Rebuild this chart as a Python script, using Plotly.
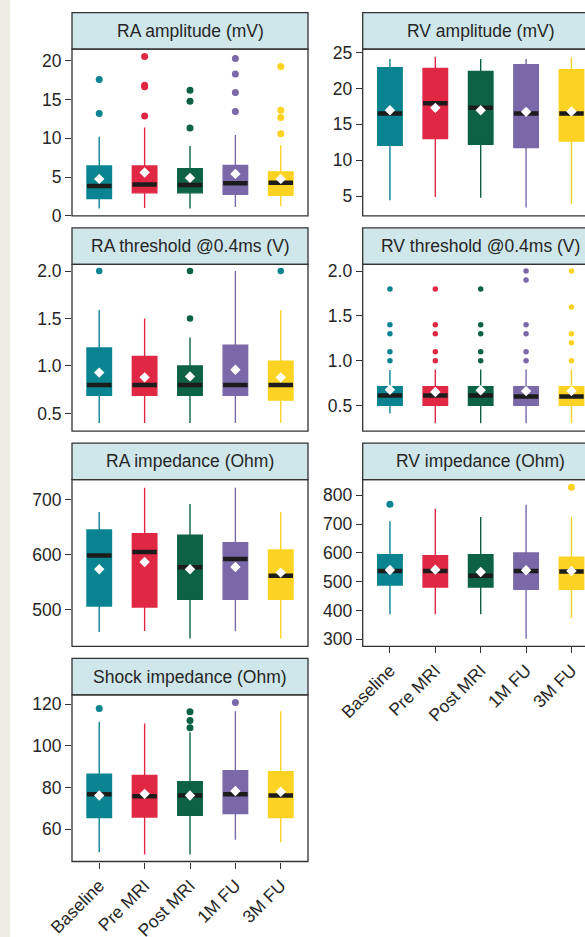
import plotly.graph_objects as go

# ---------------- data ----------------
CATS = ["Baseline", "Pre MRI", "Post MRI", "1M FU", "3M FU"]
COLORS = ["#0a8491", "#e02845", "#0d6145", "#7a68a8", "#fdd323"]

# RA amplitude (mV)
RA_AMP_Q1 = [2.24, 2.97, 2.97, 2.80, 2.67]
RA_AMP_MED = [3.87, 4.04, 4.00, 4.20, 4.26]
RA_AMP_Q3 = [6.45, 6.45, 6.10, 6.50, 5.68]
RA_AMP_LO = [0.95, 1.03, 0.95, 1.16, 1.29]
RA_AMP_HI = [10.2, 11.4, 9.0, 10.45, 9.16]
RA_AMP_MEAN = [4.77, 5.59, 4.90, 5.42, 4.77]
RA_AMP_OUT = [[17.6, 13.2], [20.56, 16.86, 16.65, 12.9], [16.2, 14.8, 11.35],
              [20.3, 18.3, 15.9, 13.46], [19.27, 13.63, 12.69, 10.58]]

# RV amplitude (mV)
RV_AMP_Q1 = [12.1, 13.03, 12.24, 11.77, 12.66]
RV_AMP_MED = [16.5, 17.95, 17.3, 16.5, 16.5]
RV_AMP_Q3 = [22.9, 22.77, 22.36, 23.3, 22.6]
RV_AMP_LO = [4.44, 4.9, 4.8, 3.42, 3.89]
RV_AMP_HI = [24.1, 24.4, 24.1, 24.1, 24.3]
RV_AMP_MEAN = [16.97, 17.3, 16.97, 16.74, 16.8]
RV_AMP_OUT = [[], [], [], [], []]

# RA threshold @0.4ms (V)
RA_THR_Q1 = [0.69, 0.69, 0.69, 0.69, 0.64]
RA_THR_MED = [0.80, 0.80, 0.80, 0.80, 0.80]
RA_THR_Q3 = [1.19, 1.10, 1.00, 1.22, 1.05]
RA_THR_LO = [0.40, 0.40, 0.40, 0.40, 0.40]
RA_THR_HI = [1.59, 1.50, 1.30, 2.00, 1.59]
RA_THR_MEAN = [0.93, 0.88, 0.89, 0.96, 0.88]
RA_THR_OUT = [[2.0], [], [2.0, 1.5], [], [2.0]]

# RV threshold @0.4ms (V)
RV_THR_Q1 = [0.50, 0.50, 0.50, 0.50, 0.50]
RV_THR_MED = [0.61, 0.61, 0.61, 0.60, 0.60]
RV_THR_Q3 = [0.71, 0.71, 0.71, 0.71, 0.71]
RV_THR_LO = [0.41, 0.30, 0.30, 0.30, 0.30]
RV_THR_HI = [0.895, 0.90, 0.90, 0.90, 0.90]
RV_THR_MEAN = [0.675, 0.65, 0.67, 0.66, 0.66]
RV_THR_OUT = [[1.8, 1.4, 1.3, 1.1, 1.0], [1.8, 1.4, 1.3, 1.1, 1.0],
              [1.8, 1.4, 1.3, 1.1, 1.0], [2.0, 1.9, 1.4, 1.3, 1.1, 1.0],
              [2.0, 1.6, 1.3, 1.2, 1.0]]

# RA impedance (Ohm)
RA_IMP_Q1 = [506.7, 504.8, 518.8, 518.8, 518.8]
RA_IMP_MED = [598.2, 604.8, 577.0, 592.0, 561.8]
RA_IMP_Q3 = [644.8, 638.0, 635.2, 621.8, 608.5]
RA_IMP_LO = [459.4, 461.2, 447.3, 460.6, 447.3]
RA_IMP_HI = [677.6, 721.8, 692.0, 721.8, 677.6]
RA_IMP_MEAN = [573.3, 586.7, 573.3, 577.6, 567.3]
RA_IMP_OUT = [[], [], [], [], []]

# RV impedance (Ohm)
RV_IMP_Q1 = [488.7, 481.7, 481.7, 473.6, 473.6]
RV_IMP_MED = [537.3, 537.3, 521.0, 537.3, 535.0]
RV_IMP_Q3 = [594.0, 590.5, 594.0, 599.8, 584.7]
RV_IMP_LO = [386.8, 386.8, 386.8, 302.3, 374.0]
RV_IMP_HI = [709.7, 753.7, 724.8, 767.6, 724.8]
RV_IMP_MEAN = [540.7, 541.9, 533.8, 539.6, 537.3]
RV_IMP_OUT = [[768.8], [], [], [], [827.8]]

# Shock impedance (Ohm)
SH_IMP_Q1 = [65.5, 65.8, 66.6, 67.4, 65.5]
SH_IMP_MED = [76.7, 75.8, 76.1, 76.7, 76.1]
SH_IMP_Q3 = [86.4, 85.7, 82.8, 88.0, 87.5]
SH_IMP_LO = [48.9, 47.8, 47.8, 54.9, 53.7]
SH_IMP_HI = [111.6, 110.7, 106.5, 116.6, 116.6]
SH_IMP_MEAN = [76.1, 76.9, 76.1, 78.3, 77.9]
SH_IMP_OUT = [[117.9], [], [116.3, 112.1, 108.7], [120.8], []]

# ---------------- geometry ----------------
W, H = 585, 937
FONT = "Liberation Sans, Arial, Helvetica, sans-serif"
TXT = "#262626"
FRAME = "#333333"
STRIP_FILL = "#cfe7eb"
FS = 17.5

COLS = [(72.0, 308.0), (362.7, 598.7)]  # visual panel left/right (px)
XR = [-0.6, 4.6]


def ry(p):
    return 1 - p / H


def rx(p):
    return p / W


panels = [
    dict(title="RA amplitude (mV)", q1=RA_AMP_Q1, med=RA_AMP_MED, q3=RA_AMP_Q3, lo=RA_AMP_LO,
         hi=RA_AMP_HI, mean=RA_AMP_MEAN, out=RA_AMP_OUT, yr=[0, 21.5],
         tv=[0, 5, 10, 15, 20], tt=["0", "5", "10", "15", "20"], col=0, row=0, xt=False, ms=7),
    dict(title="RV amplitude (mV)", q1=RV_AMP_Q1, med=RV_AMP_MED, q3=RV_AMP_Q3, lo=RV_AMP_LO,
         hi=RV_AMP_HI, mean=RV_AMP_MEAN, out=RV_AMP_OUT, yr=[2.26, 25.46],
         tv=[5, 10, 15, 20, 25], tt=["5", "10", "15", "20", "25"], col=1, row=0, xt=False, ms=7),
    dict(title="RA threshold @0.4ms (V)", q1=RA_THR_Q1, med=RA_THR_MED, q3=RA_THR_Q3, lo=RA_THR_LO,
         hi=RA_THR_HI, mean=RA_THR_MEAN, out=RA_THR_OUT, yr=[0.314, 2.07],
         tv=[0.5, 1.0, 1.5, 2.0], tt=["0.5", "1.0", "1.5", "2.0"], col=0, row=1, xt=False, ms=6.5,
         ocol={4: COLORS[0]}),
    dict(title="RV threshold @0.4ms (V)", q1=RV_THR_Q1, med=RV_THR_MED, q3=RV_THR_Q3, lo=RV_THR_LO,
         hi=RV_THR_HI, mean=RV_THR_MEAN, out=RV_THR_OUT, yr=[0.213, 2.075],
         tv=[0.5, 1.0, 1.5, 2.0], tt=["0.5", "1.0", "1.5", "2.0"], col=1, row=1, xt=False, ms=5.5),
    dict(title="RA impedance (Ohm)", q1=RA_IMP_Q1, med=RA_IMP_MED, q3=RA_IMP_Q3, lo=RA_IMP_LO,
         hi=RA_IMP_HI, mean=RA_IMP_MEAN, out=RA_IMP_OUT, yr=[433.3, 736.4],
         tv=[500, 600, 700], tt=["500", "600", "700"], col=0, row=2, xt=False, ms=7),
    dict(title="RV impedance (Ohm)", q1=RV_IMP_Q1, med=RV_IMP_MED, q3=RV_IMP_Q3, lo=RV_IMP_LO,
         hi=RV_IMP_HI, mean=RV_IMP_MEAN, out=RV_IMP_OUT, yr=[275.7, 854.5],
         tv=[300, 400, 500, 600, 700, 800], tt=["300", "400", "500", "600", "700", "800"],
         col=1, row=2, xt=True, ms=7),
    dict(title="Shock impedance (Ohm)", q1=SH_IMP_Q1, med=SH_IMP_MED, q3=SH_IMP_Q3, lo=SH_IMP_LO,
         hi=SH_IMP_HI, mean=SH_IMP_MEAN, out=SH_IMP_OUT, yr=[44.4, 124.5],
         tv=[60, 80, 100, 120], tt=["60", "80", "100", "120"], col=0, row=3, xt=True, ms=7),
]

fig = go.Figure()
layout = dict(
    template="none",
    width=W, height=H, margin=dict(l=0, r=0, t=0, b=0, pad=0, autoexpand=False),
    paper_bgcolor="white", plot_bgcolor="white", showlegend=False,
    font=dict(family=FONT, color=TXT, size=FS),
)
shapes = [dict(type="rect", xref="paper", yref="paper", x0=0, x1=rx(10), y0=0, y1=1,
               fillcolor="#eeede3", line=dict(width=0), layer="below")]
annotations = []

BW = 0.54
HALF = 0.27


def frame_path(x0, x1, y0, y1, closed):
    if closed:
        return f"M{x0},{y0} L{x1},{y0} L{x1},{y1} L{x0},{y1} Z"
    return f"M{x1},{y0} L{x0},{y0} L{x0},{y1} L{x1},{y1}"


for i, p in enumerate(panels):
    n = i + 1
    xa = "x" if n == 1 else f"x{n}"
    ya = "y" if n == 1 else f"y{n}"
    xl, xr_vis = COLS[p["col"]]
    xr_dom = min(xr_vis, W)
    closed = xr_vis <= W
    st = 12.7 + 215.2 * p["row"]
    sb = st + 36.5
    pb = st + 203.2
    xmax = XR[0] + (XR[1] - XR[0]) * (xr_dom - xl) / (xr_vis - xl)

    layout[f"xaxis{n if n > 1 else ''}"] = dict(
        domain=[rx(xl), rx(xr_dom)], range=[XR[0], xmax], anchor=ya, automargin=False,
        showgrid=False, zeroline=False, showline=False,
        tickmode="array", tickvals=list(range(len(CATS))), ticktext=CATS,
        showticklabels=p["xt"], ticks="outside" if p["xt"] else "",
        ticklen=6, tickwidth=1.2, tickcolor=FRAME, tickangle=-45,
        tickfont=dict(family=FONT, size=FS, color=TXT), fixedrange=True,
    )
    layout[f"yaxis{n if n > 1 else ''}"] = dict(
        domain=[ry(pb), ry(sb)], range=p["yr"], anchor=xa, automargin=False,
        showgrid=False, zeroline=False, showline=False,
        tickmode="array", tickvals=p["tv"], ticktext=p["tt"],
        ticks="outside", ticklen=6, tickwidth=1.2, tickcolor=FRAME,
        tickfont=dict(family=FONT, size=FS, color=TXT), fixedrange=True,
    )

    for k in range(len(CATS)):
        fig.add_trace(go.Box(
            x=[k], q1=[p["q1"][k]], median=[p["med"][k]], q3=[p["q3"][k]],
            lowerfence=[p["lo"][k]], upperfence=[p["hi"][k]],
            width=BW, whiskerwidth=0, boxpoints=False,
            fillcolor=COLORS[k], line=dict(color=COLORS[k], width=1.4),
            xaxis=xa, yaxis=ya, hoverinfo="skip",
        ))
    mx, my = [], []
    for k in range(len(CATS)):
        mx += [k - HALF, k + HALF, None]
        my += [p["med"][k], p["med"][k], None]
    fig.add_trace(go.Scatter(x=mx, y=my, mode="lines", line=dict(color="#1c1c1c", width=4.5),
                             xaxis=xa, yaxis=ya, hoverinfo="skip"))
    fig.add_trace(go.Scatter(x=list(range(len(CATS))), y=p["mean"], mode="markers",
                             marker=dict(symbol="diamond", size=8, color="white",
                                         line=dict(width=0)),
                             xaxis=xa, yaxis=ya, hoverinfo="skip"))
    ocol = p.get("ocol", {})
    for k in range(len(CATS)):
        if p["out"][k]:
            c = ocol.get(k, COLORS[k])
            fig.add_trace(go.Scatter(x=[k] * len(p["out"][k]), y=p["out"][k], mode="markers",
                                     marker=dict(size=p["ms"], color=c, line=dict(width=0)),
                                     xaxis=xa, yaxis=ya, hoverinfo="skip", cliponaxis=False))

    x0p, x1p = rx(xl), rx(xr_dom)
    shapes.append(dict(type="rect", xref="paper", yref="paper",
                       x0=x0p, x1=x1p, y0=ry(sb), y1=ry(st),
                       fillcolor=STRIP_FILL, line=dict(width=0), layer="above"))
    shapes.append(dict(type="path", xref="paper", yref="paper",
                       path=frame_path(x0p, x1p, ry(sb), ry(st), closed),
                       line=dict(color=FRAME, width=1.3), layer="above"))
    shapes.append(dict(type="path", xref="paper", yref="paper",
                       path=frame_path(x0p, x1p, ry(pb), ry(sb), closed),
                       line=dict(color=FRAME, width=1.3), layer="above"))
    annotations.append(dict(text=p["title"], xref="paper", yref="paper",
                            x=rx((xl + xr_vis) / 2), y=ry((st + sb) / 2),
                            xanchor="center", yanchor="middle", showarrow=False,
                            font=dict(family=FONT, size=FS, color=TXT)))

layout["shapes"] = shapes
layout["annotations"] = annotations
fig.update_layout(**layout)
fig.write_html("out.html", config={"displayModeBar": False},
               post_script="document.body.style.margin='0';document.body.style.overflow='hidden';")
